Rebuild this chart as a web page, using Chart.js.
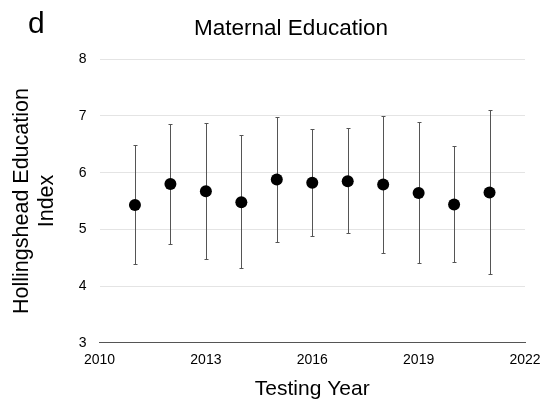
<!DOCTYPE html>
<html>
<head>
<meta charset="utf-8">
<script src="https://cdn.jsdelivr.net/npm/chart.js@4/dist/chart.umd.min.js"></script>
<style>
html,body{margin:0;padding:0;background:#fff;}
#c{display:block;}
</style>
</head>
<body>
<canvas id="c" width="546" height="410"></canvas>
<script>
const years = [2011, 2012, 2013, 2014, 2015, 2016, 2017, 2018, 2019, 2020, 2021];
const means = [5.43, 5.80, 5.67, 5.48, 5.88, 5.82, 5.85, 5.79, 5.64, 5.44, 5.65];
const upper = [6.48, 6.85, 6.88, 6.66, 6.99, 6.77, 6.78, 7.00, 6.89, 6.47, 7.10];
const lower = [4.38, 4.75, 4.47, 4.31, 4.77, 4.88, 4.93, 4.58, 4.40, 4.42, 4.21];
const xTicks = [2010, 2013, 2016, 2019, 2022];
const yTicks = [3, 4, 5, 6, 7, 8];
const panelLabel = 'd';
const titleText = 'Maternal Education';
const xTitle = 'Testing Year';
const yTitle = ['Hollingshead Education', 'Index'];

const FONT = '"Liberation Sans", Arial, Helvetica, sans-serif';

const errorBars = {
  id: 'errorBars',
  beforeDatasetsDraw(chart) {
    const ctx = chart.ctx;
    const xs = chart.scales.x, ys = chart.scales.y;
    ctx.save();
    ctx.strokeStyle = '#555555';
    ctx.lineWidth = 1;
    for (let i = 0; i < years.length; i++) {
      const x = Math.round(xs.getPixelForValue(years[i])) + 0.5;
      const yh = Math.round(ys.getPixelForValue(upper[i])) + 0.5;
      const yl = Math.round(ys.getPixelForValue(lower[i])) + 0.5;
      ctx.beginPath();
      ctx.moveTo(x, yh); ctx.lineTo(x, yl);
      ctx.moveTo(x - 2, yh); ctx.lineTo(x + 2, yh);
      ctx.moveTo(x - 2, yl); ctx.lineTo(x + 2, yl);
      ctx.stroke();
    }
    ctx.restore();
  }
};

const textLabels = {
  id: 'textLabels',
  afterDraw(chart) {
    const ctx = chart.ctx;
    ctx.save();
    ctx.fillStyle = '#000';
    ctx.textBaseline = 'alphabetic';
    ctx.font = '30px ' + FONT;
    ctx.textAlign = 'left';
    ctx.fillText(panelLabel, 28, 33);
    ctx.font = '22.5px ' + FONT;
    ctx.textAlign = 'center';
    ctx.fillText(titleText, 291, 35);
    ctx.restore();
  }
};

new Chart(document.getElementById('c'), {
  type: 'scatter',
  data: {
    datasets: [{
      data: years.map((y, i) => ({ x: y, y: means[i] })),
      pointRadius: 6,
      pointHoverRadius: 6,
      backgroundColor: '#000',
      borderColor: '#000',
      borderWidth: 0
    }]
  },
  options: {
    responsive: false,
    animation: false,
    layout: { padding: { top: 59.3, right: 21, left: 0, bottom: 0 } },
    plugins: {
      legend: { display: false },
      tooltip: { enabled: false },
      title: { display: false }
    },
    scales: {
      x: {
        type: 'linear',
        min: 2010, max: 2022,
        afterBuildTicks: (s) => { s.ticks = xTicks.map(v => ({ value: v })); },
        afterFit: (s) => { s.height = 410 - 342.7; s.paddingLeft = 0; s.paddingRight = 0; },
        ticks: { callback: v => String(v), color: '#000', font: { size: 14, family: FONT }, padding: 9, maxRotation: 0 },
        grid: { display: false, drawTicks: false },
        border: { display: true, color: '#555555', width: 1 },
        title: { display: true, text: xTitle, color: '#000', font: { size: 21, family: FONT, lineHeight: 1.2 }, padding: { top: 0, bottom: 8 } }
      },
      y: {
        min: 3, max: 8,
        afterBuildTicks: (s) => { s.ticks = yTicks.map(v => ({ value: v })); },
        afterFit: (s) => { s.width = 99.5; s.paddingTop = 0; s.paddingBottom = 0; },
        ticks: { callback: v => String(v), color: '#000', font: { size: 14, family: FONT }, padding: 13 },
        grid: { color: '#e4e4e4', drawTicks: false },
        border: { display: false },
        title: { display: true, text: yTitle, color: '#000', font: { size: 21.5, family: FONT, lineHeight: 1.16 }, padding: { top: 10, bottom: 0 } }
      }
    }
  },
  plugins: [errorBars, textLabels]
});
</script>
</body>
</html>
